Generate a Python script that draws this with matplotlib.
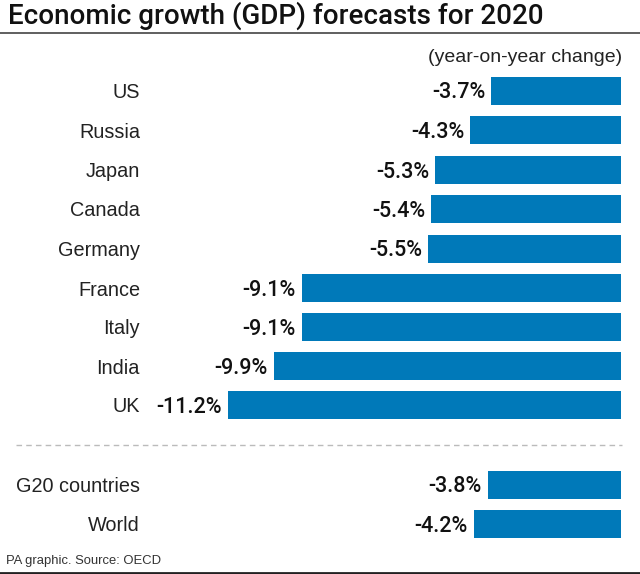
import matplotlib
matplotlib.use('Agg')
import matplotlib.pyplot as plt

countries = ['US', 'Russia', 'Japan', 'Canada', 'Germany', 'France', 'Italy', 'India', 'UK']
country_values = [-3.7, -4.3, -5.3, -5.4, -5.5, -9.1, -9.1, -9.9, -11.2]
groups = ['G20 countries', 'World']
group_values = [-3.8, -4.2]
country_rows = [90.5, 130, 169.5, 209, 248.5, 288, 327, 366, 405]
group_rows = [484.5, 523.5]

W, H = 640, 574
BLUE = '#0079b9'
plt.rcParams['font.family'] = ['Liberation Sans', 'DejaVu Sans']

fig = plt.figure(figsize=(W / 100, H / 100), dpi=100)
ax = fig.add_axes([0, 0, 1, 1])
# pixel space: y down, x in pixels
ax.set_xlim(0, W)
ax.set_ylim(H, 0)
ax.axis('off')

RIGHT = 621
SCALE = 35.1  # px per percentage point


def draw_rows(names, values, rows):
    for name, val, y in zip(names, values, rows):
        w = -val * SCALE
        ax.barh(y, w, height=28, left=RIGHT - w, color=BLUE)
        ax.text(140, y, name, ha='right', va='center_baseline', fontsize=14.3, color='#222222')
        ax.text(RIGHT - w - 6, y, f'{val}%', ha='right', va='center_baseline', fontsize=15.5,
                family='Roboto', fontweight='medium', color='#111111')


draw_rows(countries, country_values, country_rows)
draw_rows(groups, group_values, group_rows)

ax.text(8, 23.5, 'Economic growth (GDP) forecasts for 2020', ha='left', va='baseline',
        fontsize=20, family='Roboto', fontweight='medium', color='#111111')
ax.plot([0, W], [33, 33], color='#444444', lw=1.2)
ax.text(622, 57, '(year-on-year change)', ha='right', va='center', fontsize=14, color='#222222')
ax.plot([16, 622], [445, 445], color='#bbbbbb', lw=1, ls=(0, (4, 3)))
ax.text(6, 561, 'PA graphic. Source: OECD', ha='left', va='center', fontsize=9.4, color='#333333')
ax.plot([0, W], [572.5, 572.5], color='#222222', lw=2)

fig.savefig('out.png', dpi=100)
